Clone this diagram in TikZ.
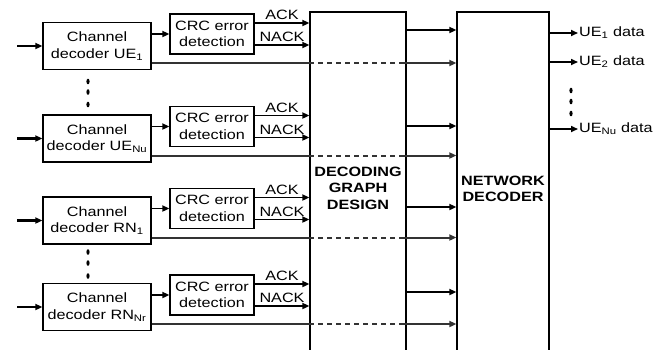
\documentclass[tikz,border=0pt]{standalone}
\usepackage{fontspec}
\setmainfont{Liberation Sans}[FakeStretch=1.2]
\usetikzlibrary{arrows.meta}
\tikzset{
  blk/.style={draw,line width=1.3pt,align=center,inner sep=0pt},
  sig/.style={line width=1.8pt,-{Triangle[length=7pt,width=6pt]}},
  dline/.style={draw=black!80,line width=2pt},
  txt/.style={font=\fontsize{13.5}{16.5}\selectfont},
}
\begin{document}
\begin{tikzpicture}[x=1pt,y=-1pt,every node/.style={txt}]
\useasboundingbox (0,0) rectangle (668,349);
\clip (0,0) rectangle (668,349);
% Decoding graph design and network decoder
\node[blk,font=\fontsize{13.5}{16.5}\selectfont\bfseries,minimum width=96pt,minimum height=352pt] (dgd) at (358,188) {DECODING\\GRAPH\\DESIGN};
\node[blk,font=\fontsize{13.5}{16.5}\selectfont\bfseries,minimum width=92pt,minimum height=354pt] (nd) at (503,189) {NETWORK\\DECODER};
% Channel decoder rows
\foreach \c/\n/\s/\t/\o in {46/ua/UE/1/-16,138.5/ub/UE/Nu/-12.5,220.5/ra/RN/1/-13.5,307/rb/RN/Nr/-15}{
  \node[blk,minimum width=108pt,minimum height=47pt] (dec\n) at (97,\c) {Channel\\decoder \s\textsubscript{\t}};
  \node[blk,minimum width=84pt,minimum height=40pt] (crc\n) at (212,\c-12) {CRC error\\detection};
  \coordinate (in\n) at (17,\c);
  \coordinate (ack\n) at ([yshift=11pt]crc\n.east);
  \coordinate (nack\n) at ([yshift=-11pt]crc\n.east);
  \coordinate (out\n) at ([yshift=-17pt]dec\n.east);
  \coordinate (lnk\n) at (0,\c+\o);
  \draw[sig,line width=2.3pt] (in\n) -- (dec\n);
  \draw[sig] (dec\n.east |- crc\n) -- (crc\n.west);
  \draw[sig] (ack\n) -- node[above=-1pt]{ACK} (dgd.west |- ack\n);
  \draw[sig] (nack\n) -- node[above=-1pt]{NACK} (dgd.west |- nack\n);
  \draw[dline] (out\n) -- (dgd.west |- out\n);
  \draw[dline,dash pattern=on 5pt off 4pt] (dgd.west |- out\n) -- ++(90,0);
  \draw[sig,dline] (dgd.west |- out\n) ++(90,0) -- (nd.west |- out\n);
  \draw[sig] (dgd.east |- lnk\n) -- (nd.west |- lnk\n);
}
% Outputs
\node[anchor=west,inner sep=1pt] (oa) at (578,33) {UE\textsubscript{1} data};
\node[anchor=west,inner sep=1pt] (ob) at (578,62) {UE\textsubscript{2} data};
\node[anchor=west,inner sep=1pt] (oc) at (578,129) {UE\textsubscript{Nu} data};
\foreach \m in {oa,ob,oc} \draw[sig,line width=1.6pt] (nd.east |- \m) -- (\m.west);
% Dots
\foreach \x/\y in {88/81.5,88/92,88/104.5,88/252,88/263,88/276,571/90.5,571/101.5,571/113.5}
  \fill (\x,\y) ellipse (1.6 and 2.8);
\end{tikzpicture}
\end{document}
